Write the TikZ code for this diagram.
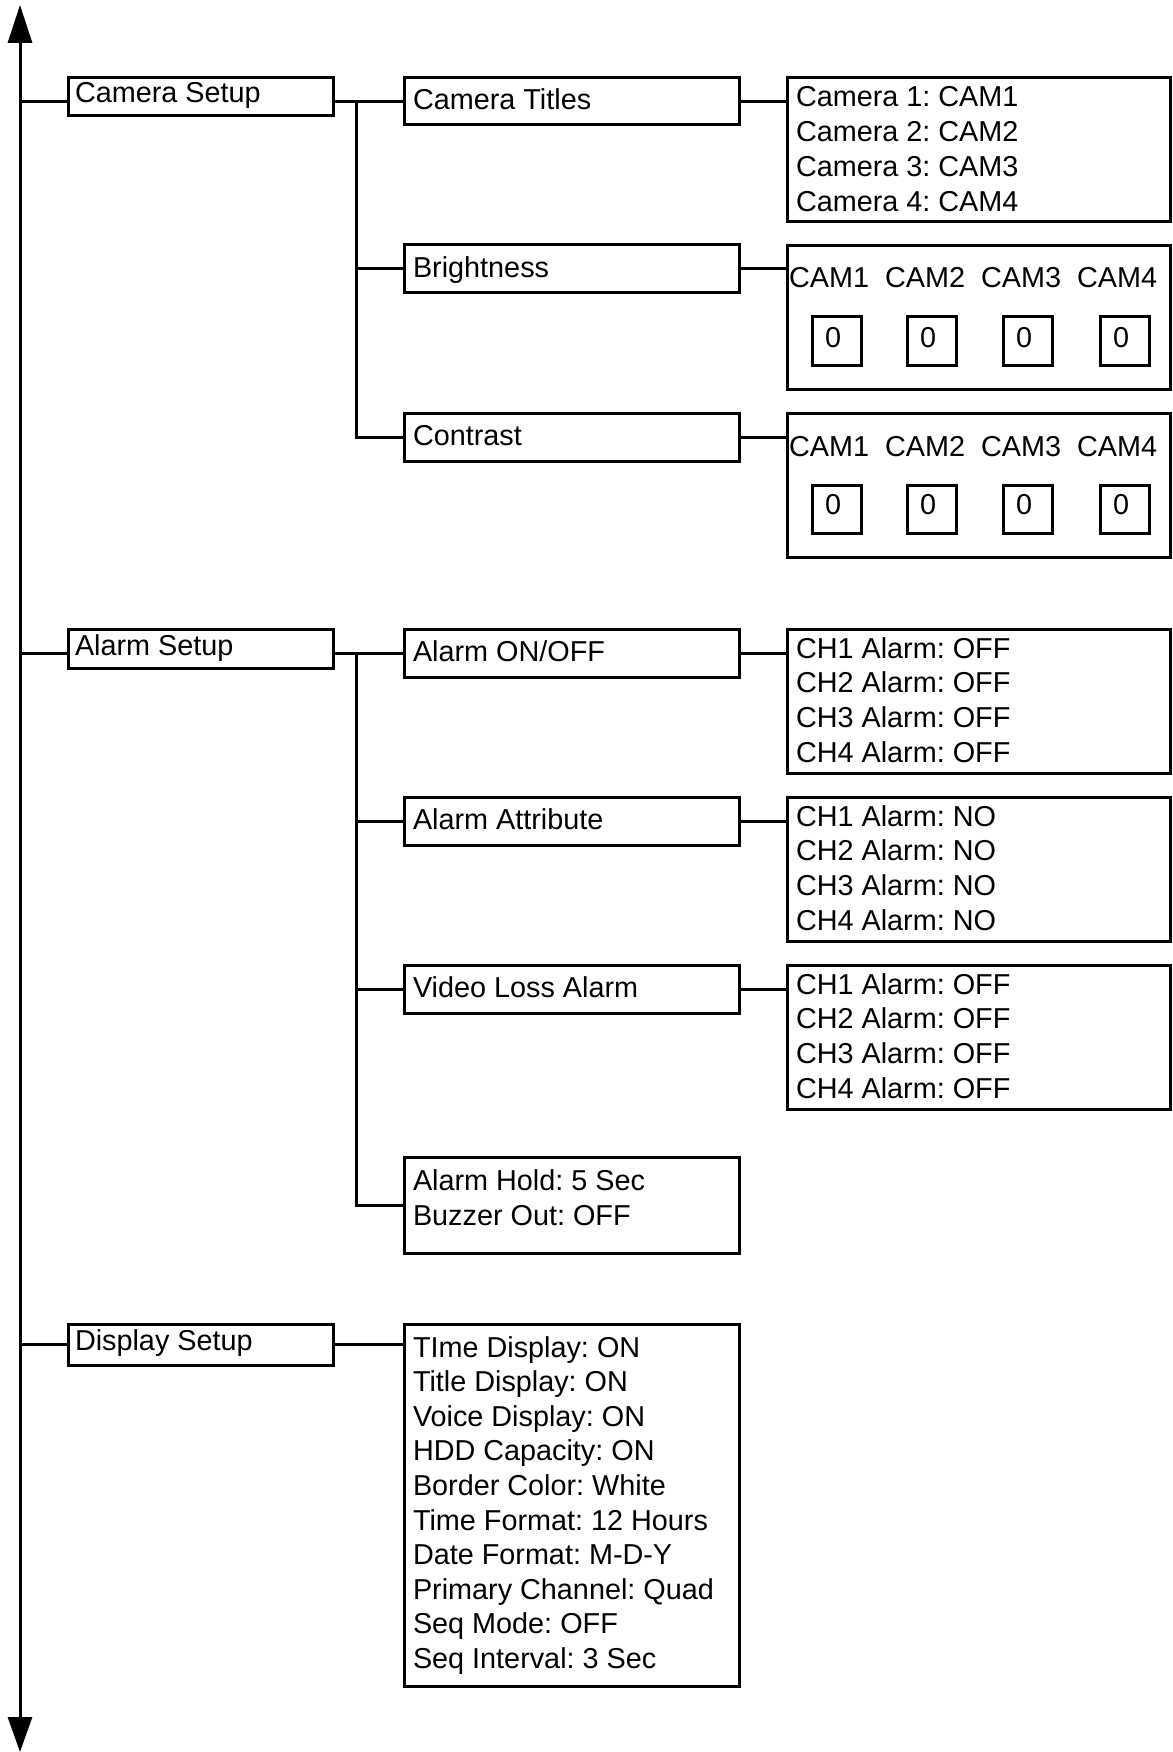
\documentclass[tikz,border=0pt]{standalone}
\usepackage{fontspec}
\setmainfont{Liberation Sans}
\usetikzlibrary{arrows.meta}
\begin{document}
\frenchspacing
\begin{tikzpicture}[x=1pt,y=-1pt,line width=3pt,
  box/.style={draw,line width=3pt,inner sep=0pt,outer sep=0pt,anchor=north west},
  lbl/.style={anchor=base west,inner sep=0pt,outer sep=0pt,font=\fontsize{28.8}{34}\selectfont}]
\useasboundingbox (0,0) rectangle (1172,1752);
% main arrow
\coordinate (mtop) at (20,5);
\coordinate (mbot) at (20,1752);
\coordinate (cbx) at (356,0);
\coordinate (abx) at (356,0);
\draw[{Triangle[length=38pt,width=24pt]}-{Triangle[length=35pt,width=24pt]}] (mtop) -- (mbot);

% ---------- Camera Setup ----------
\node[box,minimum width=265pt,minimum height=38pt] (cs) at (68,78) {};
\node[lbl] (cst) at (75,103) {Camera Setup};
\node[box,minimum width=335pt,minimum height=47pt] (ct) at (404,78) {};
\node[lbl] (ctt) at (413,110) {Camera Titles};
\node[box,minimum width=335pt,minimum height=48pt] (br) at (404,245) {};
\node[lbl] (brt) at (413,278) {Brightness};
\node[box,minimum width=335pt,minimum height=48pt] (co) at (404,413) {};
\node[lbl] (cot) at (413,445) {Contrast};

\node[box,minimum width=383pt,minimum height=144pt] (cl) at (787,78) {};
\foreach \i in {1,...,4} {
  \node[lbl] (clt\i) at (796,{107+34.7*(\i-1)}) {Camera \i: CAM\i};
}
\node[box,minimum width=383pt,minimum height=143pt] (bv) at (787,246) {};
\node[box,minimum width=383pt,minimum height=144pt] (cv) at (787,413) {};
\foreach \i/\lx/\bx in {1/789/812,2/885/907,3/981/1003,4/1077/1100} {
  \node[lbl] (bvl\i) at (\lx,288) {CAM\i};
  \node[box,minimum width=49pt,minimum height=48pt] (bvb\i) at (\bx,317) {};
  \node[lbl] (bvz\i) at (\bx+13,347) {0};
  \node[lbl] (cvl\i) at (\lx,456) {CAM\i};
  \node[box,minimum width=49pt,minimum height=48pt] (cvb\i) at (\bx,485) {};
  \node[lbl] (cvz\i) at (\bx+13,514) {0};
}

\draw (mtop |- ct.west) -- (cs.west |- ct.west);
\draw (cs.east |- ct.west) -- (ct.west);
\draw (cbx |- ct.west) -- (cbx |- co.west) -- (co.west);
\draw (cbx |- br.west) -- (br.west);
\draw (ct.east) -- (cl.west |- ct.east);
\draw (br.east) -- (bv.west |- br.east);
\draw (co.east) -- (cv.west |- co.east);

% ---------- Alarm Setup ----------
\node[box,minimum width=265pt,minimum height=39pt] (as) at (68,629) {};
\node[lbl] (ast) at (75,655) {Alarm Setup};
\node[box,minimum width=335pt,minimum height=48pt] (ao) at (404,629) {};
\node[lbl] (aot) at (413,661) {Alarm ON/OFF};
\node[box,minimum width=335pt,minimum height=48pt] (aa) at (404,797) {};
\node[lbl] (aat) at (413,829) {Alarm Attribute};
\node[box,minimum width=335pt,minimum height=48pt] (vl) at (404,965) {};
\node[lbl] (vlt) at (413,997) {Video Loss Alarm};
\node[box,minimum width=335pt,minimum height=96pt] (ah) at (404,1157) {};
\node[lbl] (aht1) at (413,1190) {Alarm Hold: 5 Sec};
\node[lbl] (aht2) at (413,1225) {Buzzer Out: OFF};

\node[box,minimum width=383pt,minimum height=144pt] (aov) at (787,629) {};
\node[box,minimum width=383pt,minimum height=144pt] (aav) at (787,797) {};
\node[box,minimum width=383pt,minimum height=144pt] (vlv) at (787,965) {};
\foreach \i in {1,...,4} {
  \node[lbl] (aovt\i) at (796,{658+34.7*(\i-1)}) {CH\i{} Alarm: OFF};
  \node[lbl] (aavt\i) at (796,{826+34.7*(\i-1)}) {CH\i{} Alarm: NO};
  \node[lbl] (vlvt\i) at (796,{994+34.7*(\i-1)}) {CH\i{} Alarm: OFF};
}

\draw (mtop |- ao.west) -- (as.west |- ao.west);
\draw (as.east |- ao.west) -- (ao.west);
\draw (abx |- ao.west) -- (abx |- ah.west) -- (ah.west);
\draw (abx |- aa.west) -- (aa.west);
\draw (abx |- vl.west) -- (vl.west);
\draw (ao.east) -- (aov.west |- ao.east);
\draw (aa.east) -- (aav.west |- aa.east);
\draw (vl.east) -- (vlv.west |- vl.east);

% ---------- Display Setup ----------
\node[box,minimum width=265pt,minimum height=41pt] (ds) at (68,1324) {};
\node[lbl] (dst) at (75,1350) {Display Setup};
\node[box,minimum width=335pt,minimum height=362pt] (dv) at (404,1324) {};
\foreach \t [count=\i] in {TIme Display: ON,Title Display: ON,Voice Display: ON,HDD Capacity: ON,Border Color: White,Time Format: 12 Hours,Date Format: M-D-Y,Primary Channel: Quad,Seq Mode: OFF,Seq Interval: 3 Sec} {
  \node[lbl] (dvt\i) at (413,{1357+34.6*(\i-1)}) {\t};
}
\draw (mtop |- ds.west) -- (ds.west);
\draw (ds.east) -- (dv.west |- ds.east);
\end{tikzpicture}
\end{document}
